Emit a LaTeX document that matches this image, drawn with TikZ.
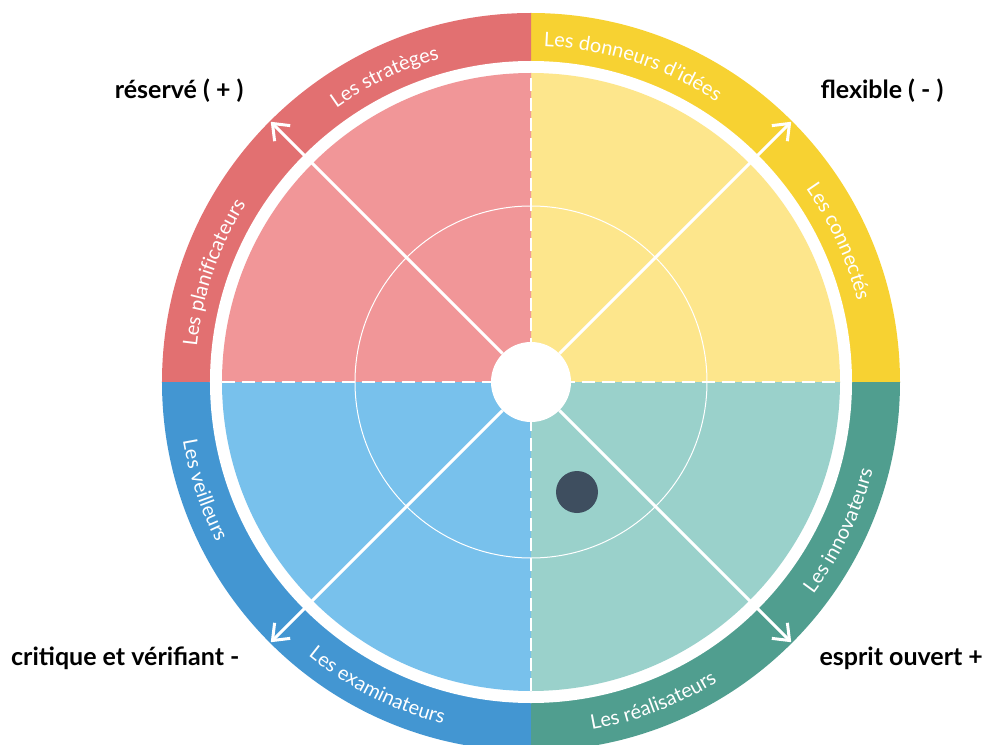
\documentclass[tikz,border=0pt]{standalone}
\usepackage{fontspec}
\setmainfont{Lato}
\usetikzlibrary{arrows.meta,decorations.text}
\definecolor{redband}{HTML}{E27071}
\definecolor{redpale}{HTML}{F19698}
\definecolor{yellowband}{HTML}{F7D232}
\definecolor{yellowpale}{HTML}{FDE68C}
\definecolor{tealband}{HTML}{509E8F}
\definecolor{tealpale}{HTML}{9AD1CB}
\definecolor{blueband}{HTML}{4396D2}
\definecolor{bluepale}{HTML}{78C1EC}
\definecolor{dotgrey}{HTML}{3E4E5F}
\newcommand\bandfont{\fontsize{20}{22}\selectfont}
\begin{document}
\begin{tikzpicture}[x=1pt, y=1pt,
  hub/.style={circle, fill=white, minimum size=80pt, inner sep=0pt},
  marker/.style={circle, fill=dotgrey, minimum size=42pt, inner sep=0pt},
  spoke/.style={white, line width=3pt, -{Straight Barb[length=14pt, width=22pt]}},
  axis/.style={white, line width=2pt, dash pattern=on 13pt off 7pt},
  pole/.style={font=\fontsize{25}{29}\selectfont\bfseries},
  toptext/.style={decorate, decoration={text along path, text align=center, text color=white, text={|\bandfont|#1}}},
  bottext/.style={decorate, decoration={text along path, text align=center, text color=white, text={|\bandfont|#1}}}]
\useasboundingbox (-531,-362) rectangle (451,382);
% quadrants
\foreach \a/\band/\pale in {0/yellowband/yellowpale, 90/redband/redpale, 180/blueband/bluepale, 270/tealband/tealpale} {
  \fill[\band] (0,0) -- (\a:369) arc[start angle=\a, end angle=\a+90, radius=369] -- cycle;
}
\fill[white] (0,0) circle[radius=321];
\foreach \a/\band/\pale in {0/yellowband/yellowpale, 90/redband/redpale, 180/blueband/bluepale, 270/tealband/tealpale} {
  \fill[\pale] (0,0) -- (\a:309) arc[start angle=\a, end angle=\a+90, radius=309] -- cycle;
}
\draw[white, line width=1pt] (0,0) circle[radius=176];
\draw[axis] (-309,0) -- (309,0);
\draw[axis] (0,-309) -- (0,309);
% centre and arrows
\node[hub] (hub) at (0,0) {};
\coordinate (ne) at (45:368);
\coordinate (nw) at (135:368);
\coordinate (sw) at (225:368);
\coordinate (se) at (315:368);
\foreach \c in {ne, nw, sw, se}
  \draw[spoke] (hub) -- (\c);
\node[marker] (dot) at (46,-110) {};
% band labels
\path[toptext={Les stratèges}] (145.6:336) arc[start angle=145.6, end angle=85.6, radius=336];
\path[toptext={Les donneurs d’idées}] (102.2:336) arc[start angle=102.2, end angle=42.2, radius=336];
\path[toptext={Les connectés}] (54.5:336) arc[start angle=54.5, end angle=-5.5, radius=336];
\path[toptext={Les planificateurs}] (191:336) arc[start angle=191, end angle=131, radius=336];
\path[bottext={Les veilleurs}] (-191.7:353) arc[start angle=-191.7, end angle=-131.7, radius=353];
\path[bottext={Les examinateurs}] (-146.8:353) arc[start angle=-146.8, end angle=-86.8, radius=353];
\path[bottext={Les réalisateurs}] (-99.1:353) arc[start angle=-99.1, end angle=-39.1, radius=353];
\path[bottext={Les innovateurs}] (-55.7:353) arc[start angle=-55.7, end angle=4.3, radius=353];
% poles
\node[pole, anchor=base east] (reserve) at (-284,283) {réservé ( + )};
\node[pole, anchor=base west] (flexible) at (286,283) {flexible ( - )};
\node[pole, anchor=base east] (critique) at (-288,-283) {critique et vérifiant -};
\node[pole, anchor=base west] (ouvert) at (285,-283) {esprit ouvert +};
\end{tikzpicture}
\end{document}
